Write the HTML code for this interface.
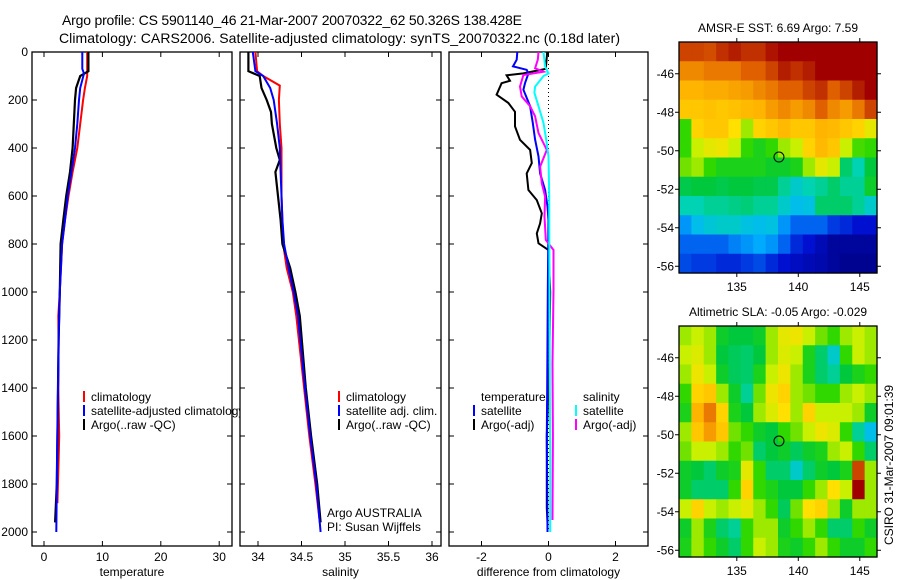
<!DOCTYPE html>
<html><head><meta charset="utf-8"><style>
body{margin:0;background:#fff;}
svg{display:block;font-family:"Liberation Sans",sans-serif;}
</style></head><body>
<svg id="fig" width="900" height="580" viewBox="0 0 900 580" xmlns="http://www.w3.org/2000/svg">
<defs>
<clipPath id="clipLeg"><rect x="32" y="380" width="208" height="60"/></clipPath>
<clipPath id="clipP1"><rect x="32" y="52" width="200" height="494"/></clipPath>
<clipPath id="clipP2"><rect x="240" y="52" width="201" height="494"/></clipPath>
<clipPath id="clipP3"><rect x="449" y="52" width="199" height="494"/></clipPath>
</defs>
<text x="62" y="25" font-size="14" textLength="460">Argo profile: CS 5901140_46 21-Mar-2007 20070322_62 50.326S 138.428E</text>
<text x="59" y="43" font-size="14" textLength="561">Climatology: CARS2006. Satellite-adjusted climatology: synTS_20070322.nc (0.18d later)</text>
<g id="g1"></g>
<g id="g2"></g>
<g id="g3"></g>
<g id="m1"></g>
<g id="m2"></g>
<text transform="translate(893,545) rotate(-90)" font-size="12">CSIRO 31-Mar-2007 09:01:39</text>
</svg>
<script>
// ---------- data ----------
const depthTicks = [0,200,400,600,800,1000,1200,1400,1600,1800,2000];
const tempTicks = [0,10,20,30];
const salTicks = [34,34.5,35,35.5,36];
const diffTicks = [-2,0,2];

const tClimDepth = [0,100,150,200,300,400,500,600,700,800,1000,1100,1200,1400,1600,1700,1880];
const tClimVal   = [7.4,7.4,7.0,6.7,6.2,5.7,4.9,4.2,3.6,3.1,2.7,2.45,2.5,2.45,2.6,2.5,2.3];
const tSatDepth  = [0,70,90,150,200,300,400,500,600,700,800,1000,1200,1400,1600,1800,2000];
const tSatVal    = [6.56,6.56,6.85,6.2,6.0,5.7,5.3,4.7,4.05,3.6,3.1,2.7,2.5,2.4,2.3,2.2,2.1];
const tArgoDepth = [0,80,100,150,200,300,400,500,600,700,800,1000,1200,1400,1600,1800,1960];
const tArgoVal   = [7.6,7.6,6.2,5.5,5.3,5.1,4.9,4.45,3.8,3.3,2.85,2.7,2.5,2.4,2.3,2.2,1.9];

const sClimDepth = [0,80,100,140,200,300,400,500,600,700,800,900,1000,1100,1400,1600,1800,1960];
const sClimVal   = [33.97,33.99,34.06,34.25,34.24,34.25,34.27,34.27,34.27,34.28,34.29,34.33,34.40,34.44,34.53,34.59,34.66,34.71];
const sSatDepth  = [0,80,100,150,200,300,400,500,600,700,800,900,1000,1100,1400,1600,1800,2000];
const sSatVal    = [33.94,33.97,34.06,34.14,34.18,34.22,34.25,34.26,34.27,34.28,34.30,34.35,34.41,34.46,34.54,34.60,34.67,34.72];
const sArgoDepth = [0,80,100,150,200,250,300,400,450,500,600,700,800,900,1000,1100,1400,1600,1800,1960];
const sArgoVal   = [33.89,33.89,34.02,34.04,34.10,34.15,34.16,34.21,34.25,34.20,34.23,34.26,34.28,34.37,34.43,34.48,34.55,34.61,34.68,34.72];

const dTSatDepth  = [0,32,60,74,89,130,157,226,296,365,435,506,575,644,700,1000,1400,1600,1800,2000];
const dTSatVal    = [-0.93,-0.95,-1.06,-0.65,-0.6,-0.7,-0.75,-0.55,-0.47,-0.4,-0.3,-0.25,-0.1,-0.03,0,-0.02,-0.04,-0.05,-0.04,-0.03];
const dTArgoDepth = [0,70,89,97,120,130,178,212,249,310,366,408,463,506,575,617,672,714,756,797,825,1000,1300,1600,1900,1960];
const dTArgoVal   = [-0.04,-0.08,-0.75,-1.25,-1.15,-1.4,-1.55,-1.2,-1.0,-1.0,-0.85,-0.55,-0.5,-0.65,-0.6,-0.35,-0.2,-0.25,-0.35,-0.3,0,0.05,0.02,-0.05,-0.05,-0.03];
const dSSatDepth  = [0,60,89,100,144,170,226,296,365,435,600,1000,1400,1700,2000];
const dSSatVal    = [-0.15,-0.1,0,-0.15,-0.4,-0.42,-0.3,-0.15,-0.07,0,0.02,0.03,0.04,0.05,0.05];
const dSArgoDepth = [0,32,68,82,96,144,185,226,268,338,408,478,547,602,686,783,825,992,1300,1600,1950];
const dSArgoVal   = [-0.3,-0.32,-0.4,-0.15,-0.75,-0.85,-0.8,-0.55,-0.4,-0.3,-0.05,-0.25,-0.2,-0.1,-0.12,-0.08,0.15,0.15,0.12,0.13,0.12];

const latTicks = [-46,-48,-50,-52,-54,-56];
const lonTicks = [135,140,145];
const argoLon = 138.428, argoLat = -50.326;
const sstGrid = [
[.88,.88,.87,.9,.92,.9,.9,.93,.95,.95,.95,.95,.95,.95,.95,.95],
[.8,.8,.82,.82,.82,.85,.85,.88,.92,.9,.92,.95,.95,.95,.95,.95],
[.75,.75,.76,.76,.77,.78,.8,.82,.85,.85,.88,.9,.85,.88,.92,.95],
[.72,.72,.73,.72,.73,.74,.75,.78,.8,.78,.8,.85,.8,.78,.82,.88],
[.55,.7,.72,.72,.68,.6,.7,.72,.74,.72,.72,.75,.74,.72,.7,.65],
[.55,.62,.65,.66,.62,.55,.52,.55,.6,.62,.7,.74,.72,.62,.56,.55],
[.58,.6,.55,.52,.52,.52,.52,.5,.5,.52,.6,.65,.62,.45,.4,.48],
[.47,.48,.48,.47,.48,.48,.47,.47,.42,.38,.4,.42,.45,.42,.42,.5],
[.4,.4,.42,.42,.43,.44,.42,.42,.38,.35,.36,.45,.45,.45,.42,.38],
[.3,.35,.37,.38,.38,.36,.35,.36,.3,.25,.25,.25,.2,.18,.15,.15],
[.25,.25,.25,.25,.28,.3,.32,.3,.25,.18,.15,.1,.05,.05,.05,.05],
[.22,.2,.2,.18,.18,.2,.22,.18,.15,.12,.1,.08,.05,.03,.03,.03]];
const slaGrid = [
[.6,.62,.6,.5,.48,.48,.5,.6,.65,.66,.62,.58,.55,.6,.62,.6],
[.62,.64,.6,.48,.46,.45,.48,.6,.64,.62,.52,.45,.38,.55,.62,.6],
[.6,.66,.62,.5,.46,.45,.52,.62,.66,.6,.52,.45,.42,.48,.52,.55],
[.55,.7,.72,.6,.5,.42,.58,.66,.7,.6,.58,.55,.55,.6,.62,.6],
[.52,.75,.82,.7,.52,.48,.6,.64,.68,.6,.7,.62,.62,.62,.6,.5],
[.6,.72,.78,.72,.58,.55,.5,.48,.55,.58,.62,.66,.64,.55,.42,.35],
[.58,.62,.62,.6,.55,.58,.45,.48,.5,.46,.5,.52,.6,.62,.55,.45],
[.5,.48,.45,.5,.52,.65,.55,.45,.45,.38,.45,.5,.48,.52,.88,.6],
[.5,.45,.45,.45,.55,.7,.55,.52,.48,.48,.55,.6,.68,.62,.95,.6],
[.62,.7,.62,.6,.62,.65,.6,.55,.46,.58,.68,.7,.6,.5,.6,.6],
[.5,.6,.52,.45,.42,.55,.6,.6,.5,.55,.6,.55,.45,.45,.55,.5],
[.52,.6,.55,.5,.45,.55,.62,.6,.52,.5,.55,.6,.55,.5,.5,.55]];

// ---------- helpers ----------
const NS = "http://www.w3.org/2000/svg";
function mk(parent, tag, attrs, text){
  const e = document.createElementNS(NS, tag);
  for (const k in attrs) e.setAttribute(k, attrs[k]);
  if (text !== undefined) e.textContent = text;
  parent.appendChild(e);
  return e;
}
const yD = d => 52 + d*0.24;

function panel(g, x0, x1, xs, ticks, tickFmt, label, showY, clip){
  const fr = mk(g,'rect',{x:x0,y:52,width:x1-x0,height:494,fill:'none',stroke:'#000','stroke-width':1.3});
  
  
  depthTicks.forEach(d=>{
    const y = yD(d);
    const t1 = mk(g,'line',{x1:x0,x2:x0+5,y1:y,y2:y,stroke:'#000'});
    
    
    const t2 = mk(g,'line',{x1:x1-5,x2:x1,y1:y,y2:y,stroke:'#000'});
    
    
    if (showY){
      const tl = mk(g,'text',{x:x0-4,y:y+4,'font-size':12,'text-anchor':'end'},String(d));
      
      
    }
  });
  ticks.forEach(v=>{
    const x = xs(v);
    const a = mk(g,'line',{x1:x,x2:x,y1:52,y2:57,stroke:'#000'});
    
    
    const b = mk(g,'line',{x1:x,x2:x,y1:541,y2:546,stroke:'#000'});
    
    
    const tl = mk(g,'text',{x:x,y:561,'font-size':12,'text-anchor':'middle'},tickFmt(v));
    
    
  });
  const al = mk(g,'text',{x:(x0+x1)/2,y:576,'font-size':12,'text-anchor':'middle'},label);
  
  
}
function series(g, depths, vals, xs, color, name, clip, w){
  const pts = depths.map((d,i)=>xs(vals[i]).toFixed(1)+','+yD(d).toFixed(1)).join(' ');
  const p = mk(g,'polyline',{points:pts,fill:'none',stroke:color,'stroke-width':w||2,'stroke-linejoin':'miter','clip-path':clip});
  
  
}
function legend(g, x, y, color, text, clip){
  const b = mk(g,'line',{x1:x,x2:x,y1:y-10,y2:y+1,stroke:color,'stroke-width':2});
  
  
  const t = mk(g,'text',{x:x+7,y:y,'font-size':12,'clip-path':clip||''},text);
  
  
}

// panel 1 temperature
const g1 = document.getElementById('g1');
const xT = v => 44 + v*5.84;
panel(g1,32,232,xT,tempTicks,v=>String(v),'temperature',true);
series(g1,tClimDepth,tClimVal,xT,'#ff0000','temp-climatology-line','url(#clipP1)');
series(g1,tArgoDepth,tArgoVal,xT,'#000000','temp-argo-line','url(#clipP1)',2.2);
series(g1,tSatDepth,tSatVal,xT,'#0000ff','temp-satellite-line','url(#clipP1)');
legend(g1,84,401,'#ff0000','climatology');
legend(g1,84,415,'#0000ff','satellite-adjusted climatology','url(#clipLeg)');
legend(g1,84,429,'#000000','Argo(..raw -QC)');

// panel 2 salinity
const g2 = document.getElementById('g2');
const xS = v => 258 + (v-34)*87;
panel(g2,240,441,xS,salTicks,v=>String(v),'salinity',false);
series(g2,sClimDepth,sClimVal,xS,'#ff0000','sal-climatology-line','url(#clipP2)');
series(g2,sArgoDepth,sArgoVal,xS,'#000000','sal-argo-line','url(#clipP2)',2.2);
series(g2,sSatDepth,sSatVal,xS,'#0000ff','sal-satellite-line','url(#clipP2)');
legend(g2,339,401,'#ff0000','climatology');
legend(g2,339,415,'#0000ff','satellite adj. clim.');
legend(g2,339,429,'#000000','Argo(..raw -QC)');
const ag1 = mk(g2,'text',{x:327,y:517,'font-size':12},'Argo AUSTRALIA');


const ag2 = mk(g2,'text',{x:327,y:531,'font-size':12},'PI: Susan Wijffels');



// panel 3 differences
const g3 = document.getElementById('g3');
const xDf = v => 548.5 + v*33.5;
panel(g3,449,648,xDf,diffTicks,v=>String(v),'difference from climatology',false);
const zl = mk(g3,'line',{x1:xDf(0),x2:xDf(0),y1:52,y2:yD(2000),stroke:'#000','stroke-width':1,'stroke-dasharray':'1,3'});


series(g3,dTArgoDepth,dTArgoVal,xDf,'#000000','temp-argo-diff-line','url(#clipP3)');
series(g3,dTSatDepth,dTSatVal,xDf,'#0000ff','temp-satellite-diff-line','url(#clipP3)');
series(g3,dSArgoDepth,dSArgoVal,xDf,'#ff00ff','sal-argo-diff-line','url(#clipP3)');
series(g3,dSSatDepth,dSSatVal,xDf,'#00ffff','sal-satellite-diff-line','url(#clipP3)');
const lt = mk(g3,'text',{x:481,y:401,'font-size':12},'temperature');


const ls = mk(g3,'text',{x:583,y:401,'font-size':12},'salinity');


legend(g3,474,415,'#0000ff','satellite');
legend(g3,474,429,'#000000','Argo(-adj)');
legend(g3,576,415,'#00ffff','satellite');
legend(g3,576,429,'#ff00ff','Argo(-adj)');

// ---------- maps ----------
const cmapStops = [[0,[0,0,128]],[.15,[0,16,208]],[.25,[0,100,240]],[.33,[0,180,255]],[.4,[0,210,180]],[.48,[0,200,60]],[.55,[48,216,0]],[.62,[200,240,0]],[.68,[255,224,0]],[.75,[255,180,0]],[.85,[224,96,0]],[.95,[160,0,0]],[1,[160,0,0]]];
function cmap(v){
  for (let i=1;i<cmapStops.length;i++){
    if (v<=cmapStops[i][0]){
      const [a,ca]=cmapStops[i-1],[b,cb]=cmapStops[i];
      const t=(v-a)/(b-a||1);
      return 'rgb('+ca.map((c,k)=>Math.round(c+(cb[k]-c)*t)).join(',')+')';
    }
  }
  return 'rgb(160,0,0)';
}
function drawMap(g, top, grid, title){
  const x0=679, x1=877, bottom=top+231;
  const lonMin=130.3, lonMax=146.4, latMax=-44.35, latMin=-56.35;
  const xL = lon => x0 + (lon-lonMin)/(lonMax-lonMin)*(x1-x0);
  const yL = lat => top + (latMax-lat)/(latMax-latMin)*(bottom-top);
  const rows=grid.length, cols=grid[0].length;
  const dLon=(lonMax-lonMin)/cols, dLat=(latMax-latMin)/rows;
  grid.forEach((row,r)=>row.forEach((v,c)=>{
    const xa=xL(lonMin+c*dLon), xb=xL(lonMin+(c+1)*dLon);
    const ya=yL(latMax-r*dLat), yb=yL(latMax-(r+1)*dLat);
    const cell = mk(g,'rect',{x:xa.toFixed(2),y:ya.toFixed(2),width:(xb-xa+0.6).toFixed(2),height:(yb-ya+0.6).toFixed(2),fill:cmap(v)});
    
    
  }));
  const fr = mk(g,'rect',{x:x0,y:top,width:x1-x0,height:bottom-top,fill:'none',stroke:'#000','stroke-width':1.3});
  
  
  latTicks.forEach(l=>{
    const y=yL(l);
    const a=mk(g,'line',{x1:x0-4,x2:x0,y1:y,y2:y,stroke:'#000'});
    
    
    const b=mk(g,'line',{x1:x1,x2:x1+4,y1:y,y2:y,stroke:'#000'});
    
    
    const t=mk(g,'text',{x:x0-5,y:y+4,'font-size':12,'text-anchor':'end'},String(l));
    
    
  });
  lonTicks.forEach(l=>{
    const x=xL(l);
    const a=mk(g,'line',{x1:x,x2:x,y1:top-4,y2:top,stroke:'#000'});
    
    
    const b=mk(g,'line',{x1:x,x2:x,y1:bottom,y2:bottom+4,stroke:'#000'});
    
    
    const t=mk(g,'text',{x:x,y:bottom+18,'font-size':12,'text-anchor':'middle'},String(l));
    
    
  });
  const c=mk(g,'circle',{cx:xL(argoLon),cy:yL(argoLat),r:5,fill:'none',stroke:'#000','stroke-width':1});
  
  
  const t=mk(g,'text',{x:(x0+x1)/2,y:top-10,'font-size':12,'text-anchor':'middle'},title);
  
  
}
drawMap(document.getElementById('m1'),42,sstGrid,'AMSR-E SST: 6.69 Argo: 7.59');
drawMap(document.getElementById('m2'),326,slaGrid,'Altimetric SLA: -0.05 Argo: -0.029');
</script>
</body></html>
